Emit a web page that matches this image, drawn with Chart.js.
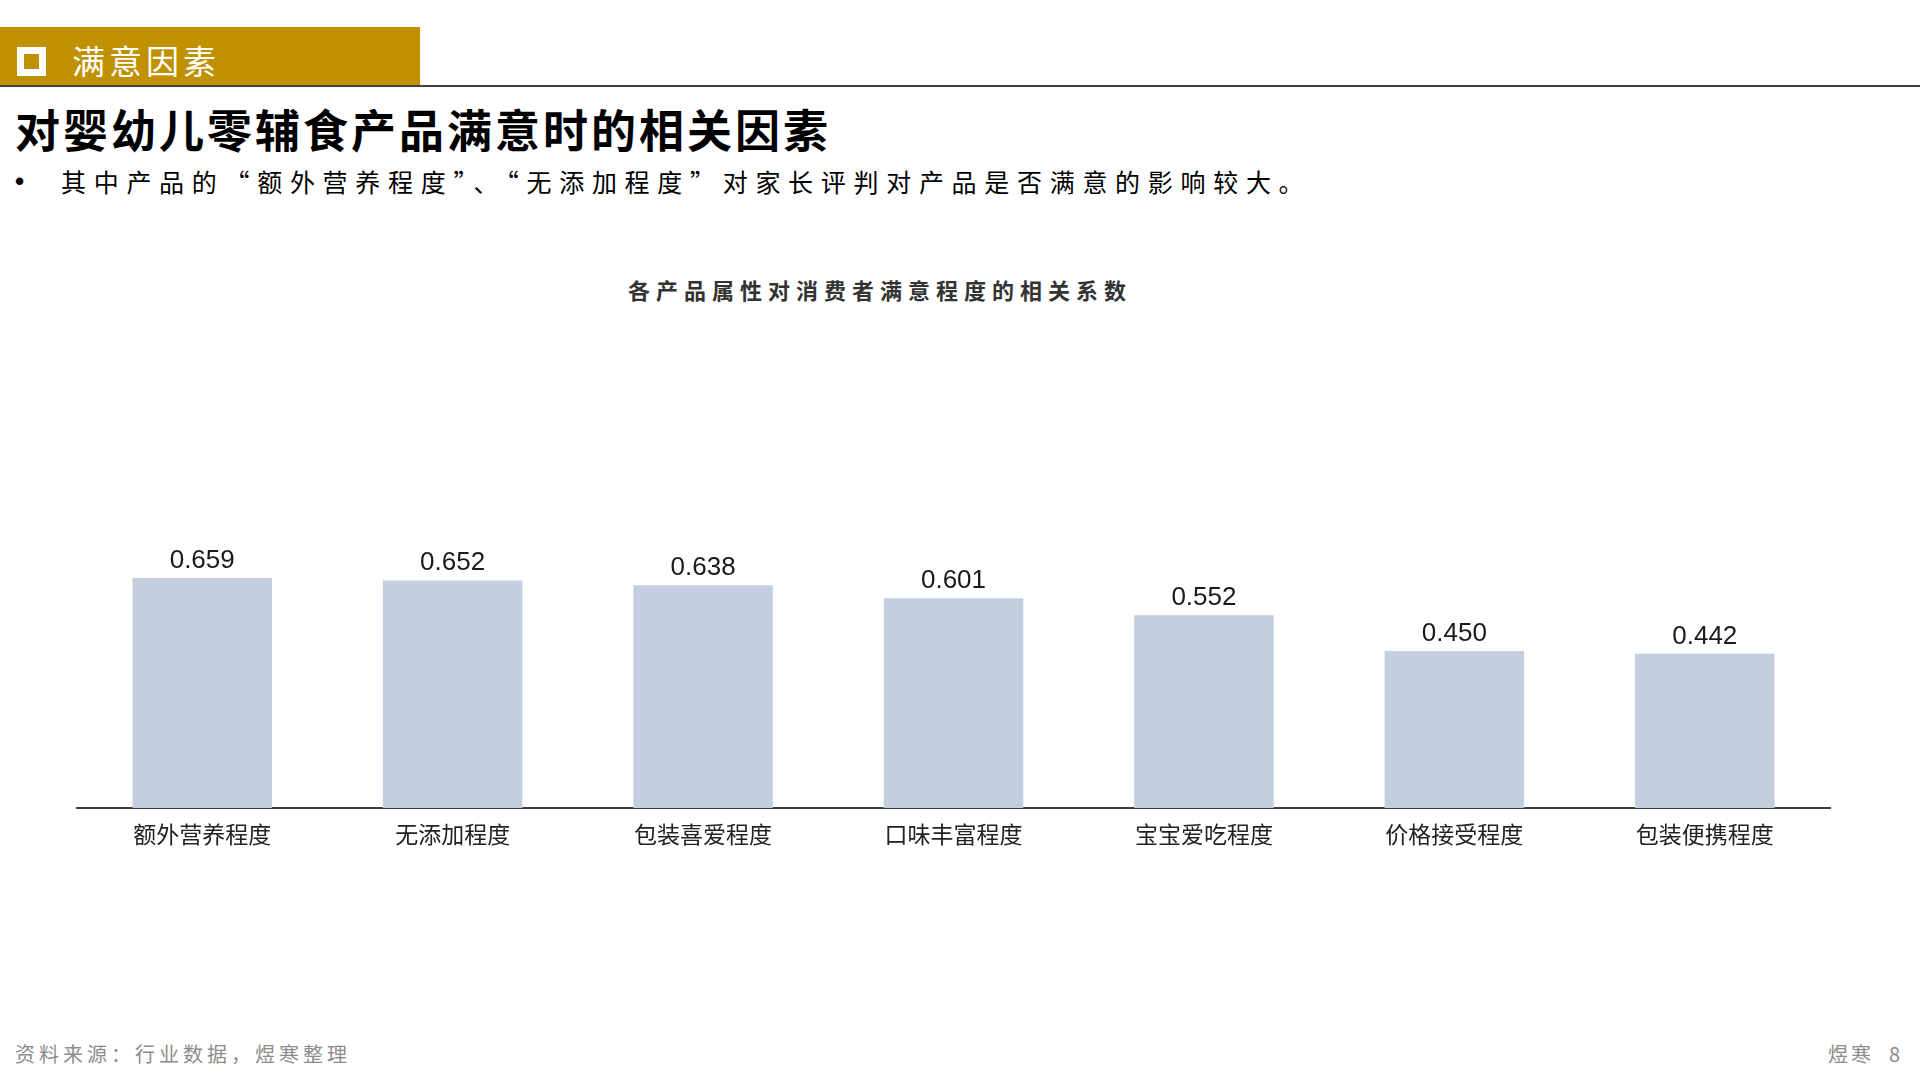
<!DOCTYPE html>
<html>
<head>
<meta charset="utf-8">
<script src="https://cdn.jsdelivr.net/npm/chart.js@4.4.0/dist/chart.umd.min.js"></script>
<style>
  body { margin: 0; width: 1920px; height: 1080px; background: #fff; position: relative; overflow: hidden;
         font-family: "Noto Sans CJK SC", "Noto Sans", sans-serif; }
  .band { position: absolute; left: 0; top: 27px; width: 420px; height: 59px; background: #BF9000; }
  .band .box { position: absolute; left: 17px; top: 20px; width: 15px; height: 15px; border: 7px solid #fff; }
  .band .txt { position: absolute; left: 72px; top: 13px; color: #fff; font-size: 33px; letter-spacing: 4px; line-height: 40px; }
  .rule { position: absolute; left: 0; top: 85px; width: 1920px; height: 2px; background: #404040; }
  .title { position: absolute; left: 15px; top: 101px; font-size: 45px; font-weight: bold; letter-spacing: 3px; line-height: 56px; color: #000; }
  .bullet { position: absolute; left: 15px; top: 165px; font-size: 25px; line-height: 32px; color: #000; }
  .bullet b { position: absolute; left: 0; top: 0; font-family: "Liberation Sans", Arial, sans-serif; font-size: 26px; }
  .bullet span { position: absolute; left: 46px; top: 0; white-space: nowrap; letter-spacing: 7.7px; }
  .ctitle { position: absolute; left: 628px; top: 274px; font-size: 22px; font-weight: bold; letter-spacing: 6px; line-height: 30px; color: #333; white-space: nowrap; }
  .wrap { position: absolute; left: 0; top: 440px; width: 1920px; height: 440px; }
  .src { position: absolute; left: 15px; top: 1040px; font-size: 20px; letter-spacing: 4px; color: #8c8c8c; line-height: 28px; }
  .page { position: absolute; left: 1828px; top: 1040px; font-size: 20px; letter-spacing: 3px; color: #8c8c8c; line-height: 28px; white-space: nowrap; }
</style>
</head>
<body>
<div class="band"><div class="box"></div><div class="txt">满意因素</div></div>
<div class="rule"></div>
<div class="title">对婴幼儿零辅食产品满意时的相关因素</div>
<div class="bullet"><b>•</b><span>其中产品的“额外营养程度”、“无添加程度”对家长评判对产品是否满意的影响较大。</span></div>
<div class="ctitle">各产品属性对消费者满意程度的相关系数</div>
<div class="wrap"><canvas id="chart"></canvas></div>
<div class="src">资料来源：行业数据，煜寒整理</div>
<div class="page">煜寒 &nbsp;8</div>
<script>
const categories = ['额外营养程度', '无添加程度', '包装喜爱程度', '口味丰富程度', '宝宝爱吃程度', '价格接受程度', '包装便携程度'];
const coefficients = [0.659, 0.652, 0.638, 0.601, 0.552, 0.450, 0.442];

// draw the value above each bar
const valueLabels = {
  id: 'valueLabels',
  afterDatasetsDraw(chart) {
    const ctx = chart.ctx;
    const meta = chart.getDatasetMeta(0);
    ctx.save();
    ctx.font = '26px "Liberation Sans", Arial, sans-serif';
    ctx.fillStyle = '#1a1a1a';
    ctx.textAlign = 'center';
    ctx.textBaseline = 'alphabetic';
    meta.data.forEach((bar, i) => {
      ctx.fillText(coefficients[i].toFixed(3), bar.x, bar.y - 10);
    });
    ctx.restore();
  }
};

var ctx = document.getElementById('chart').getContext('2d');
var chart = new Chart(ctx, {
  type: 'bar',
  data: {
    labels: categories,
    datasets: [{
      data: coefficients,
      backgroundColor: '#C3CEDF',
      borderWidth: 0,
      categoryPercentage: 1,
      barPercentage: 0.557
    }]
  },
  options: {
    responsive: true,
    maintainAspectRatio: false,
    devicePixelRatio: 1,
    animation: false,
    layout: { padding: { left: 77, right: 90, top: 19, bottom: 22 } },
    plugins: { legend: { display: false }, tooltip: { enabled: false } },
    scales: {
      x: {
        grid: { display: false, drawTicks: false },
        border: { display: true, color: '#404040', width: 2 },
        ticks: {
          padding: 12,
          color: '#222',
          font: { family: '"Noto Sans CJK SC", sans-serif', size: 23 },
          maxRotation: 0
        },
        afterFit(scale) { scale.height = 50; }
      },
      y: { display: false, min: 0, max: 1 }
    }
  },
  plugins: [valueLabels]
});
</script>
</body>
</html>
